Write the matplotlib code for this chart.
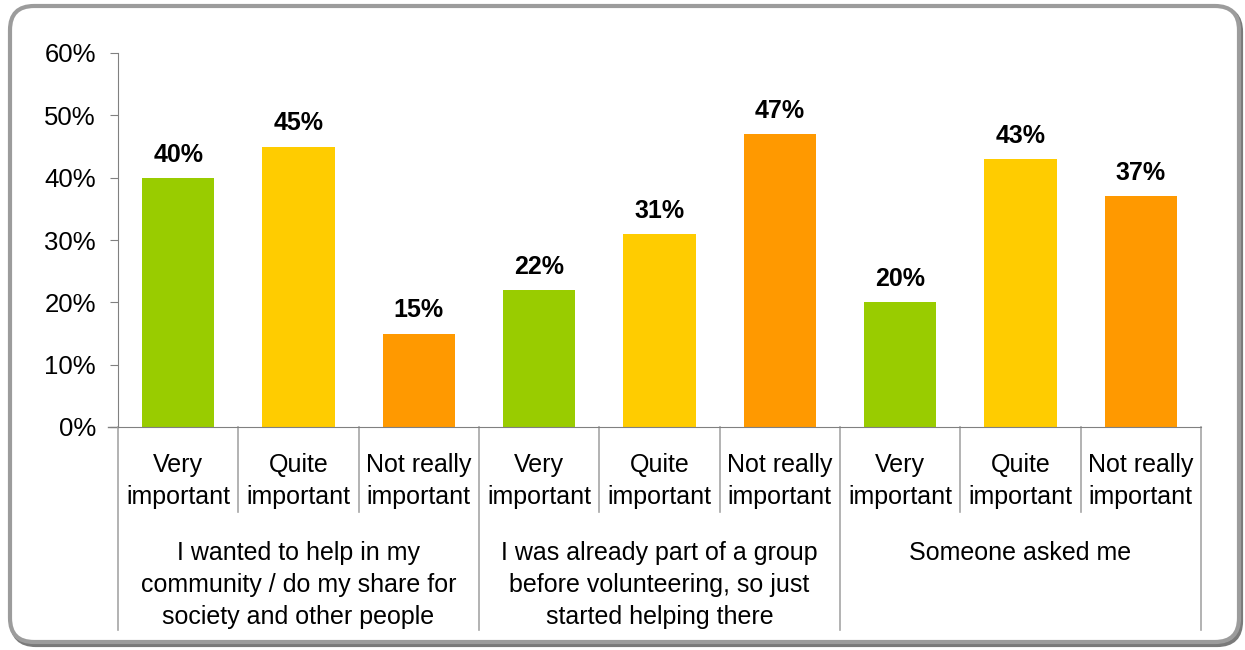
import matplotlib.pyplot as plt
from matplotlib.patches import FancyBboxPatch
from matplotlib.ticker import FuncFormatter

plt.rcParams["font.family"] = ["Liberation Sans", "DejaVu Sans"]

groups = [
    "I wanted to help in my\ncommunity / do my share for\nsociety and other people",
    "I was already part of a group\nbefore volunteering, so just\nstarted helping there",
    "Someone asked me",
]
levels = ["Very\nimportant", "Quite\nimportant", "Not really\nimportant"]
values = [40, 45, 15, 22, 31, 47, 20, 43, 37]
colors = ["#99CC00", "#FFCC00", "#FF9900"]

W, H = 1245, 650
fig = plt.figure(figsize=(W / 100, H / 100), dpi=100)

# frame around the whole chart, drawn in pixel units
bg = fig.add_axes([0, 0, 1, 1])
bg.set_xlim(0, W)
bg.set_ylim(H, 0)
bg.axis("off")
shadow = FancyBboxPatch((12, 8), 1229, 637, boxstyle="round,pad=0,rounding_size=24",
                        fc="none", ec="#7a7a7a", lw=3.0)
frame = FancyBboxPatch((10, 6), 1229, 636, boxstyle="round,pad=0,rounding_size=24",
                       fc="white", ec="#9c9c9c", lw=3.0)
bg.add_patch(shadow)
bg.add_patch(frame)

left, right, top, bottom = 118, 1201, 53, 427
ax = fig.add_axes([left / W, (H - bottom) / H, (right - left) / W, (bottom - top) / H])
ax.patch.set_alpha(0)

fs = 18
n = len(values)
xs = [i + 0.5 for i in range(n)]
bar_colors = [colors[i % 3] for i in range(n)]
ax.bar(xs, values, width=0.6, color=bar_colors, zorder=2)
for x, v in zip(xs, values):
    ax.annotate(f"{v}%", (x, v), xytext=(0, 8), textcoords="offset points",
                ha="center", va="bottom", fontsize=18, fontweight="bold")

ax.set_xlim(0, n)
ax.set_ylim(0, 60)
ax.set_yticks(range(0, 61, 10))
ax.yaxis.set_major_formatter(FuncFormatter(lambda v, _: f"{v:.0f}%"))
ax.tick_params(axis="y", labelsize=18.5, length=6, color="#808080", pad=10)
ax.set_xticks([])
for side in ["top", "right"]:
    ax.spines[side].set_visible(False)
ax.spines["left"].set_color("#808080")
ax.spines["bottom"].set_color("#808080")

tr = ax.get_xaxis_transform()
# small tick left of the origin
ax.plot([-0.08, 0], [0, 0], color="#808080", lw=1, transform=tr, clip_on=False)

sep_col = "#a6a6a6"
for i in range(n + 1):
    low = -0.543 if i % 3 == 0 else -0.227
    ax.plot([i, i], [0, low], color=sep_col, lw=1.2, transform=tr, clip_on=False)

for x, i in zip(xs, range(n)):
    ax.text(x, -0.145, levels[i % 3], transform=tr, ha="center", va="center",
            fontsize=fs, linespacing=1.42)

for g, label in enumerate(groups):
    ax.text(g * 3 + 1.5, -0.305, label, transform=tr, ha="center", va="top",
            fontsize=fs, linespacing=1.42)

fig.savefig("out.png", dpi=100)
